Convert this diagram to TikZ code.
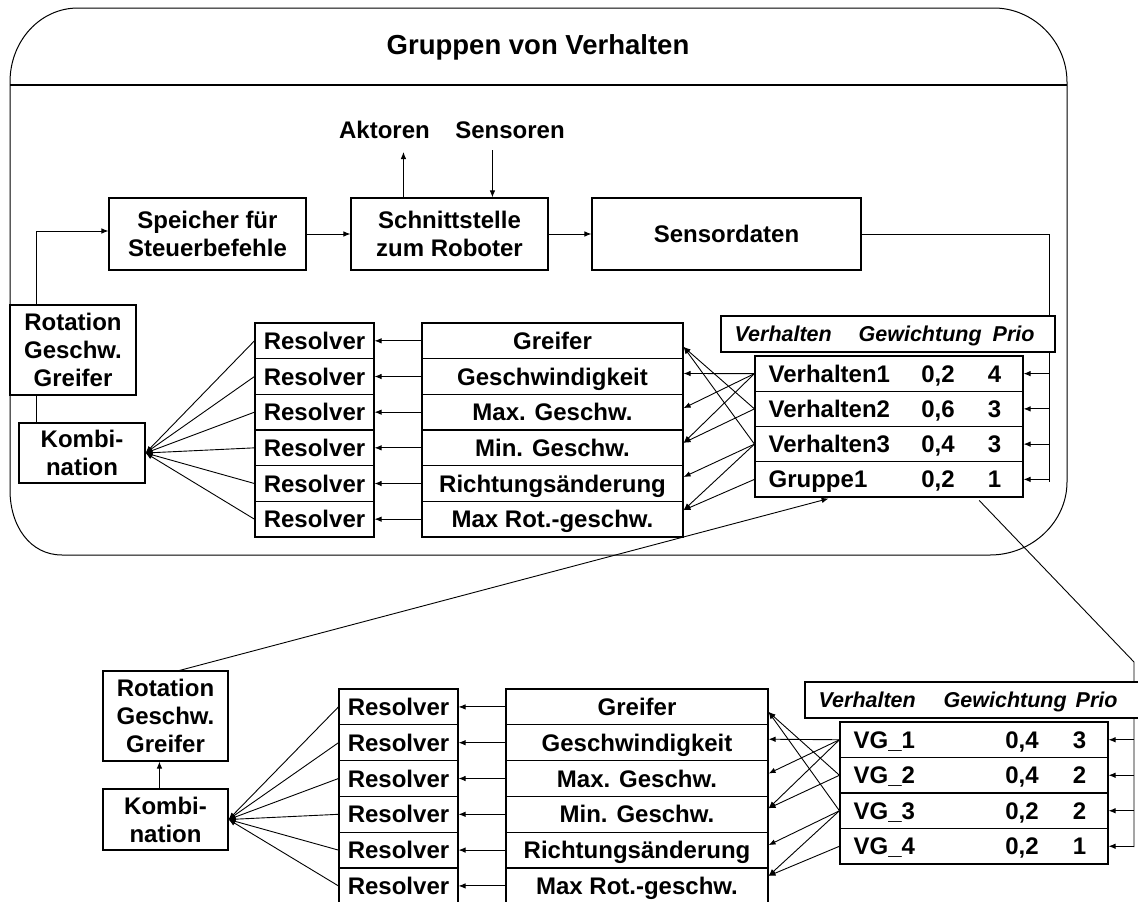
\documentclass[tikz,border=0pt]{standalone}
\usepackage{fontspec}
\setmainfont{Liberation Sans}
\usetikzlibrary{arrows.meta,calc}

\tikzset{
  lbl/.style={font=\fontsize{24}{28}\selectfont\bfseries, inner sep=0pt},
  box/.style={draw, line width=1.1pt, fill=white, inner sep=0pt,
              font=\fontsize{24}{28}\selectfont\bfseries, align=center},
  cell/.style={draw, line width=1.1pt, fill=white, inner sep=0pt,
               font=\fontsize{24}{28}\selectfont\bfseries,
               text height=17.3pt, text depth=0pt},
  hdr/.style={draw, line width=1.1pt, fill=white, inner sep=0pt,
              minimum width=334pt, minimum height=36pt},
  hdrtext/.style={font=\fontsize{21.5}{24}\selectfont\bfseries\itshape,
                  inner sep=0pt, anchor=base west},
  conn/.style={line width=0.9pt},
  arr/.style={conn, -{Latex[length=7pt,width=5.5pt]}},
}

\begin{document}
\begin{tikzpicture}[x=1pt, y=-1pt]
\useasboundingbox (0,0) rectangle (1138,902);
\clip (0,0) rectangle (1138,902);

% ---------- group frame ----------
\draw[line width=1pt] (10,82) .. controls (10,41) and (40,8) .. (78,8)
  -- (994,8) .. controls (1033,8) and (1067,41) .. (1067,82)
  -- (1067,482) .. controls (1067,522) and (1032,555) .. (990,555)
  -- (62,555) .. controls (30,555) and (10,526) .. (10,490) -- cycle;
\draw[line width=1.4pt] (10,85) -- (1067,85);
\node[lbl, font=\fontsize{27.5}{30}\selectfont\bfseries] (title) at (538,47) {Gruppen von Verhalten};

% ---------- robot interface row ----------
\node[box, minimum width=197pt, minimum height=72pt] (spe) at (207.5,234) {Speicher für\\Steuerbefehle};
\node[box, minimum width=197pt, minimum height=72pt] (sch) at (449.5,234) {Schnittstelle\\zum Roboter};
\node[box, minimum width=269pt, minimum height=72pt] (sens) at (726.5,234) {Sensordaten};
\node[lbl, anchor=base] (akt) at (384.5,138.5) {Aktoren};
\node[lbl, anchor=base] (sen) at (510,138.5) {Sensoren};

\coordinate (aup) at ($(sch.north west)+(53,0)$);
\coordinate (sdn) at ($(sch.north west)+(142,0)$);
\draw[arr, shorten >=13.5pt] (aup) -- (aup |- akt.base);
\draw[arr, shorten <=11.5pt] (sdn |- sen.base) -- (sdn);
\draw[arr] (spe.east) -- (sch.west);
\draw[arr] (sch.east) -- (sens.west);

% sensor data feedback line (runs behind the header box)
\coordinate (fbt) at (1049,234);
\coordinate (fbb) at (1049,482);
\draw[conn] (sens.east) -- (fbt) -- (fbb);

% ---------- upper group: combination ----------
\node[box, minimum width=126pt, minimum height=90pt] (rot1) at (73,350) {Rotation\\Geschw.\\Greifer};
\node[box, minimum width=126pt, minimum height=60pt] (kom1) at (82,453) {Kombi-\\nation};
\draw[arr] ($(rot1.north west)+(27,0)$) |- ($(spe.west)+(0,-3)$);
\draw[conn] ($(kom1.north west)+(18,0)$) -- ($(rot1.south west)+(27,0)$);

\foreach \i in {1,...,6}
  \node[cell, minimum width=119pt, minimum height=35.67pt] (ra\i) at (314.5,{323+35.67*(\i-0.5)}) {Resolver};
\foreach \t [count=\i] in {Greifer, Geschwindigkeit, Max. Geschw., Min. Geschw., Richtungsänderung, Max Rot.-geschw.}
  \node[cell, minimum width=261pt, minimum height=35.67pt] (pa\i) at (552.5,{323+35.67*(\i-0.5)}) {\t};

\node[hdr] (hda) at (888,334) {};
\node[hdrtext] (hda1) at ($(hda.west)+(14,7.7)$) {Verhalten};
\node[hdrtext] (hda2) at ($(hda.west)+(138,7.7)$) {Gewichtung};
\node[hdrtext] (hda3) at ($(hda.west)+(272,7.7)$) {Prio};

\foreach \vname/\vwt/\vprio [count=\i] in {Verhalten1/{0,2}/4, Verhalten2/{0,6}/3, Verhalten3/{0,4}/3, Gruppe1/{0,2}/1} {
  \node[cell, minimum width=268pt, minimum height=35.25pt] (va\i) at (889,{356+35.25*(\i-0.5)}) {};
  \node[lbl, anchor=base west] (van\i) at ($(va\i.west)+(14,8.6)$) {\vname};
  \node[lbl, anchor=base] (vaw\i) at ($(va\i.west)+(183.5,8.6)$) {\vwt};
  \node[lbl, anchor=base] (vap\i) at ($(va\i.west)+(240,8.6)$) {\vprio};
}

\foreach \i in {1,...,4}
  \draw[arr] (fbt |- va\i.east) -- (va\i.east);
\foreach \i in {1,...,6} {
  \draw[arr] (pa\i.west) -- (ra\i.east);
  \draw[arr] (ra\i.west) -- (kom1.east);
}

\coordinate (ta1) at ($(pa1.east)+(0,6)$);
\coordinate (ta2) at ($(pa2.east)+(0,-3)$);
\coordinate (ta3) at ($(pa3.east)+(0,-4)$);
\coordinate (ta4) at ($(pa4.east)+(0,-5)$);
\coordinate (ta5) at ($(pa5.east)+(0,-6.5)$);
\coordinate (ta6) at ($(pa6.east)+(0,-9)$);
\foreach \s/\t in {1/2, 1/3, 1/4, 2/1, 2/4, 3/1, 3/5, 3/6, 4/6}
  \draw[arr] (va\s.west) -- (ta\t);

% link from Gruppe1 down to its expansion
\coordinate (gsplit) at ($(va4.south west)+(222,0)$);
\coordinate (d1) at (1134,662);
\coordinate (d2) at (1134,847);
\draw[conn, shorten <=4pt] (gsplit) -- (d1) -- (d2);

% ---------- lower group (Gruppe1) ----------
\node[box, minimum width=125pt, minimum height=90pt] (rot2) at (165.5,716) {Rotation\\Geschw.\\Greifer};
\node[box, minimum width=125pt, minimum height=61pt] (kom2) at (165.5,819.5) {Kombi-\\nation};
\draw[arr] ($(kom2.north west)+(57,0)$) -- ($(rot2.south west)+(57,0)$);
\coordinate (gin) at ($(va4.south west)+(78,0)$);
\draw[arr, shorten >=4pt] ($(rot2.north west)+(77,0)$) -- (gin);

\foreach \i in {1,...,6}
  \node[cell, minimum width=119pt, minimum height=35.8pt] (rb\i) at (398.5,{689+35.8*(\i-0.5)}) {Resolver};
\foreach \t [count=\i] in {Greifer, Geschwindigkeit, Max. Geschw., Min. Geschw., Richtungsänderung, Max Rot.-geschw.}
  \node[cell, minimum width=262pt, minimum height=35.8pt] (pb\i) at (637,{689+35.8*(\i-0.5)}) {\t};

\node[hdr] (hdb) at (972,700) {};
\node[hdrtext] (hdb1) at ($(hdb.west)+(14,7.7)$) {Verhalten};
\node[hdrtext] (hdb2) at ($(hdb.west)+(139,7.7)$) {Gewichtung};
\node[hdrtext] (hdb3) at ($(hdb.west)+(271,7.7)$) {Prio};

\foreach \vname/\vwt/\vprio [count=\i] in {VG\_1/{0,4}/3, VG\_2/{0,4}/2, VG\_3/{0,2}/2, VG\_4/{0,2}/1} {
  \node[cell, minimum width=268pt, minimum height=35.5pt] (vb\i) at (974,{722+35.5*(\i-0.5)}) {};
  \node[lbl, anchor=base west] (vbn\i) at ($(vb\i.west)+(14,8.6)$) {\vname};
  \node[lbl, anchor=base] (vbw\i) at ($(vb\i.west)+(182.5,8.6)$) {\vwt};
  \node[lbl, anchor=base] (vbp\i) at ($(vb\i.west)+(240,8.6)$) {\vprio};
}

\foreach \i in {1,...,4}
  \draw[arr] (d1 |- vb\i.east) -- (vb\i.east);
\foreach \i in {1,...,6} {
  \draw[arr] (pb\i.west) -- (rb\i.east);
  \draw[arr] (rb\i.west) -- (kom2.east);
}

\coordinate (tb1) at ($(pb1.east)+(0,5)$);
\coordinate (tb2) at ($(pb2.east)+(0,-3.5)$);
\coordinate (tb3) at ($(pb3.east)+(0,-5)$);
\coordinate (tb4) at ($(pb4.east)+(0,-6)$);
\coordinate (tb5) at ($(pb5.east)+(0,-5)$);
\coordinate (tb6) at ($(pb6.east)+(0,-10)$);
\foreach \s/\t in {1/2, 1/3, 1/4, 2/1, 2/4, 3/1, 3/5, 3/6, 4/6}
  \draw[arr] (vb\s.west) -- (tb\t);
\end{tikzpicture}
\end{document}
